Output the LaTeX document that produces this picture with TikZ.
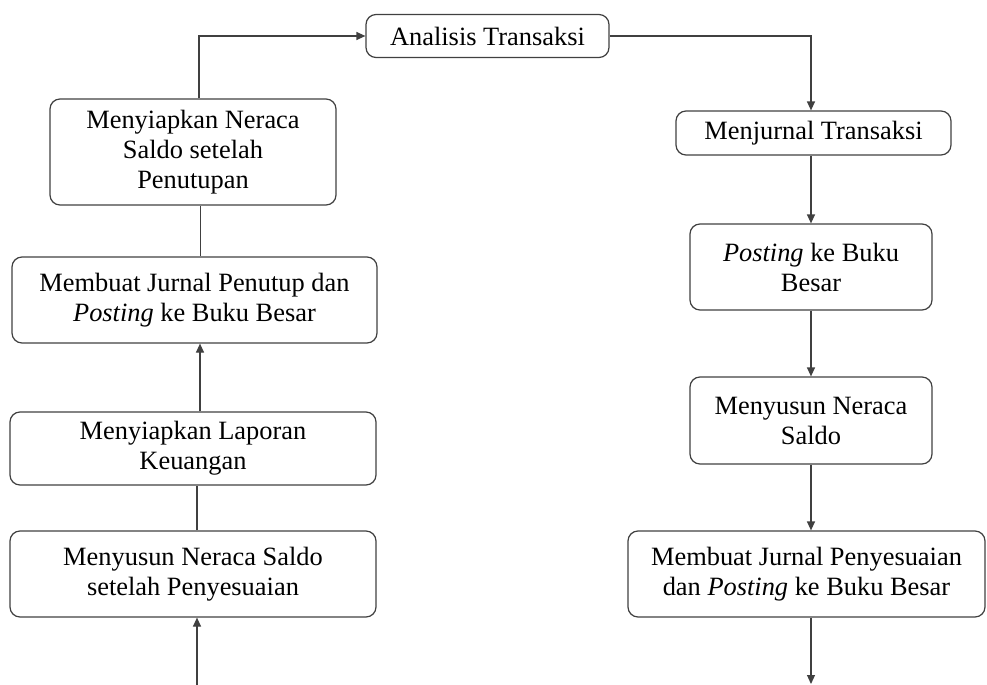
\documentclass[tikz,border=0pt]{standalone}
\usepackage{fontspec}
\setmainfont{Liberation Serif}
\usetikzlibrary{arrows.meta}
\tikzset{
  kotak/.style={draw=black!75, line width=0.6pt, rounded corners=5pt, align=center,
    inner sep=0pt, font=\fontsize{13.2}{15}\selectfont},
  garis/.style={draw=black!75, line width=0.6pt},
  panah/.style={garis, -{Triangle[length=4.5pt,width=4pt]}},
}
\begin{document}
\begin{tikzpicture}[x=0.5pt,y=-0.5pt]
\useasboundingbox (0,0) rectangle (987,685);
% ------ kolom kiri ----------------
\node[kotak, minimum width=143pt, minimum height=53pt] (tutup) at (193,152)
  {Menyiapkan Neraca\\Saldo setelah\\Penutupan};
\node[kotak, minimum width=182.5pt, minimum height=43pt] (penutup) at (194.5,300)
  {Membuat Jurnal Penutup dan\\\textit{Posting} ke Buku Besar};
\node[kotak, minimum width=183pt, minimum height=36.5pt] (laporan) at (193,448.5)
  {Menyiapkan Laporan\\Keuangan};
\node[kotak, minimum width=183pt, minimum height=43pt] (sesuai) at (193,574)
  {Menyusun Neraca Saldo\\setelah Penyesuaian};
% ------ atas ----------------
\node[kotak, minimum width=121.5pt, minimum height=21.5pt] (analisis) at (487.5,36)
  {Analisis Transaksi};
% ------ kolom kanan ----------------
\node[kotak, minimum width=137.5pt, minimum height=22pt] (jurnal) at (813.5,133)
  {Menjurnal Transaksi};
\node[kotak, minimum width=121pt, minimum height=43pt] (posting) at (811,267)
  {\textit{Posting} ke Buku\\Besar};
\node[kotak, minimum width=121pt, minimum height=43.5pt] (saldo) at (811,420.5)
  {Menyusun Neraca\\Saldo};
\node[kotak, minimum width=178.5pt, minimum height=43pt] (penyesuaian) at (806.5,574)
  {Membuat Jurnal Penyesuaian\\dan \textit{Posting} ke Buku Besar};
\coordinate (ujungkiri) at (197,685);
\coordinate (ujungkanan) at (811,684);
% ------ garis ----------------
\draw[panah] ([xshift=3pt]tutup.north) |- (analisis.west);
\draw[panah] (analisis.east) -| (jurnal.north -| posting.north);
\draw[panah] (posting.north |- jurnal.south) -- (posting.north);
\draw[panah] (posting.south) -- (saldo.north);
\draw[panah] (saldo.south) -- (saldo.south |- penyesuaian.north);
\draw[panah] (penyesuaian.south -| ujungkanan) -- (ujungkanan);
\draw[panah] (ujungkiri) -- (ujungkiri |- sesuai.south);
\draw[garis] (sesuai.north -| ujungkiri) -- (laporan.south -| ujungkiri);
\draw[panah] ([xshift=3.5pt]laporan.north) -- ([xshift=3.5pt]laporan.north |- penutup.south);
\draw[garis] ([xshift=3pt]penutup.north) -- ([xshift=3pt]penutup.north |- tutup.south);
\end{tikzpicture}
\end{document}
